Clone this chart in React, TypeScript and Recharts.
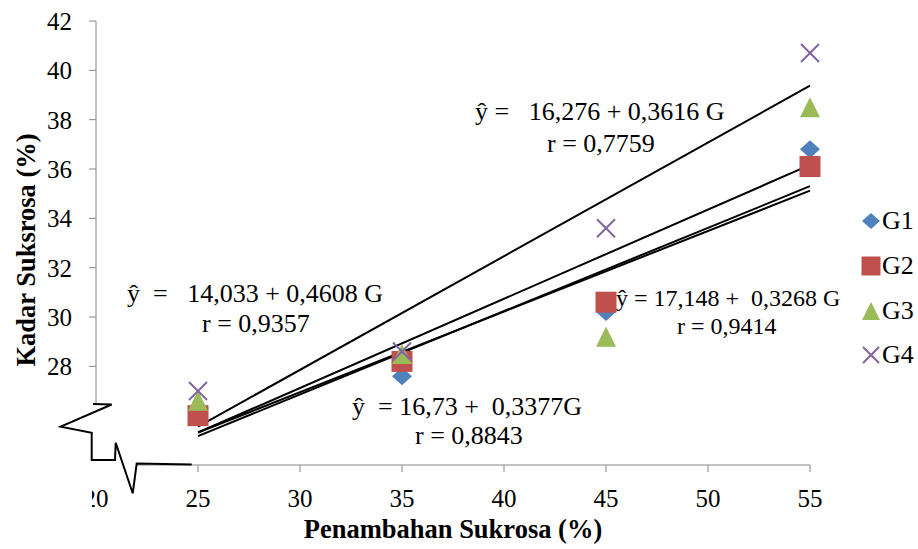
import React from 'react';
import { ScatterChart, Scatter, XAxis, YAxis, ReferenceLine } from 'recharts';

// sucrose added (%) vs measured sucrose content (%) for four groups
const sucroseAdded = [25, 35, 45, 55];
const seriesNames = ['G1', 'G2', 'G3', 'G4'];
const g1Values = [26.3, 27.6, 30.2, 36.8];
const g2Values = [26.0, 28.2, 30.6, 36.1];
const g3Values = [26.6, 28.5, 29.2, 38.5];
const g4Values = [27.0, 28.6, 33.6, 40.7];
const seriesColors = ['#4F81BD', '#C0504D', '#9BBB59', '#8064A2'];
const markerKinds = ['diamond', 'square', 'triangle', 'cross'];

// fitted lines  ŷ = a + b·G
const trendIntercepts = [16.73, 17.148, 16.276, 14.033];
const trendSlopes = [0.3377, 0.3268, 0.3616, 0.4608];
const trendFrom = 25;
const trendTo = 55;

const xTicks = [20, 25, 30, 35, 40, 45, 50, 55];
const yTicks = [28, 30, 32, 34, 36, 38, 40, 42];

const FONT = '"Liberation Serif", "Times New Roman", serif';
const AXIS_GRAY = '#868686';

const allValues = [g1Values, g2Values, g3Values, g4Values];
const seriesData = allValues.map(vals => sucroseAdded.map((x, i) => ({ x, y: vals[i] })));

const Marker = ({ kind, cx, cy, color, s = 10 }: { kind: string; cx: number; cy: number; color: string; s?: number }) => {
    if (kind === 'diamond') {
        return <polygon points={`${cx},${cy - s + 1} ${cx + s},${cy} ${cx},${cy + s - 1} ${cx - s},${cy}`} fill={color} />;
    }
    if (kind === 'square') {
        return <rect x={cx - s - 0.5} y={cy - s - 0.5} width={2 * s + 1} height={2 * s + 1} fill={color} />;
    }
    if (kind === 'triangle') {
        return <polygon points={`${cx},${cy - s} ${cx + s},${cy + s} ${cx - s},${cy + s}`} fill={color} />;
    }
    const d = s - 1;
    return (
        <g stroke={color} strokeWidth={2}>
            <line x1={cx - d} y1={cy - d} x2={cx + d} y2={cy + d} />
            <line x1={cx - d} y1={cy + d} x2={cx + d} y2={cy - d} />
        </g>
    );
};

const LegendBox = () => (
    <div style={{ position: 'absolute', left: 861, top: 199, fontFamily: FONT, fontSize: 26, color: '#000' }}>
        {seriesNames.map((name, i) => (
            <div key={name} style={{ display: 'flex', alignItems: 'center', height: 44.7 }}>
                <svg width={21} height={22}>
                    <Marker kind={markerKinds[i]} cx={10} cy={11} color={seriesColors[i]} s={9} />
                </svg>
                <span style={{ lineHeight: '26px' }}>{name}</span>
            </div>
        ))}
    </div>
);

const textStyle = { fontFamily: FONT, fontSize: 26, fill: '#000', whiteSpace: 'pre' } as React.CSSProperties;
const smallTextStyle = { ...textStyle, fontSize: 24 } as React.CSSProperties;
const titleStyle = { fontFamily: FONT, fontSize: 26.5, fontWeight: 'bold', fill: '#000' } as React.CSSProperties;

export default function App() {
    return (
        <div style={{ position: 'relative', width: 918, height: 549, background: '#fff', fontFamily: FONT }}>
            <style>{`body{margin:0;background:#fff} .recharts-cartesian-axis-tick-value{font-family:${FONT};}`}</style>
            <ScatterChart width={918} height={549} margin={{ top: 21, right: 108, bottom: 0, left: 0 }}>
                <XAxis
                    type="number"
                    dataKey="x"
                    domain={[20, 55]}
                    ticks={xTicks}
                    interval={0}
                    height={84}
                    stroke={AXIS_GRAY}
                    tickSize={7}
                    tickMargin={17}
                    tick={{ fill: '#000', fontSize: 25 }}
                />
                <YAxis
                    type="number"
                    dataKey="y"
                    domain={[24, 42]}
                    ticks={yTicks}
                    interval={0}
                    width={96}
                    stroke={AXIS_GRAY}
                    tickSize={7}
                    tickMargin={17}
                    tick={{ fill: '#000', fontSize: 25 }}
                />
                {seriesData.map((data, i) => (
                    <Scatter
                        key={seriesNames[i]}
                        name={seriesNames[i]}
                        data={data}
                        fill={seriesColors[i]}
                        isAnimationActive={false}
                        shape={(p: any) => <Marker kind={markerKinds[i]} cx={p.cx} cy={p.cy} color={seriesColors[i]} />}
                    />
                ))}
                {trendIntercepts.map((a, i) => (
                    <ReferenceLine
                        key={`trend-${i}`}
                        segment={[
                            { x: trendFrom, y: a + trendSlopes[i] * trendFrom },
                            { x: trendTo, y: a + trendSlopes[i] * trendTo },
                        ]}
                        stroke="#000"
                        strokeWidth={2}
                    />
                ))}
            </ScatterChart>

            <LegendBox />

            <svg width={918} height={549} style={{ position: 'absolute', left: 0, top: 0, pointerEvents: 'none' }}>
                {/* axis break: hide the cut part of both axes, then draw the zigzag */}
                <rect x={89} y={405} width={11} height={70} fill="#fff" />
                <rect x={89} y={460} width={48} height={9} fill="#fff" />
                <rect x={70} y={478} width={22} height={36} fill="#fff" />
                <polyline
                    points="93,404 111.7,404.5 60.7,426.7 91.7,432.7 91.7,460 115,460 115.7,442.7 132.7,493.3 136.7,463.5 191.7,464.5"
                    fill="none"
                    stroke="#000"
                    strokeWidth={2}
                    strokeLinejoin="miter"
                />

                <text x={475} y={120} style={textStyle}>{'ŷ =   16,276 + 0,3616 G'}</text>
                <text x={547} y={152} style={textStyle}>{'r = 0,7759'}</text>

                <text x={127} y={302} style={textStyle}>{'ŷ  =   14,033 + 0,4608 G'}</text>
                <text x={202} y={332} style={textStyle}>{'r = 0,9357'}</text>

                <text x={616} y={306} style={smallTextStyle}>{'ŷ = 17,148 +  0,3268 G'}</text>
                <text x={677} y={334} style={smallTextStyle}>{'r = 0,9414'}</text>

                <text x={352} y={415} style={textStyle}>{'ŷ  = 16,73 +  0,3377G'}</text>
                <text x={415} y={444} style={textStyle}>{'r = 0,8843'}</text>

                <text x={453} y={538} textAnchor="middle" style={titleStyle}>
                    Penambahan Sukrosa (%)
                </text>
                <text x={0} y={0} textAnchor="middle" transform="translate(35 250) rotate(-90)" style={titleStyle}>
                    Kadar Suksrosa (%)
                </text>
            </svg>
        </div>
    );
}
